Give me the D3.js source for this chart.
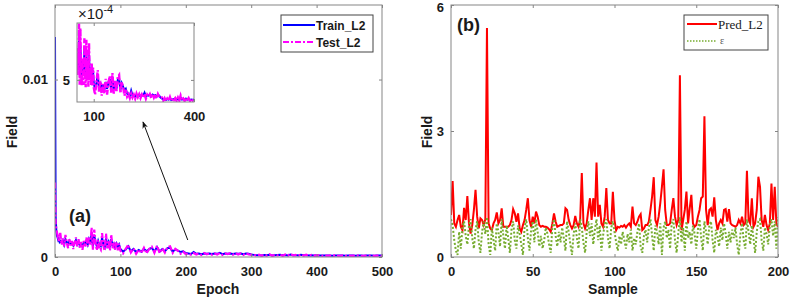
<!DOCTYPE html>
<html>
<head>
<meta charset="utf-8">
<script src="https://cdn.jsdelivr.net/npm/d3@7"></script>
<style>
  body { margin: 0; background: #fff; }
  text { font-family: "Liberation Sans", Arial, sans-serif; }
</style>
</head>
<body>
<div id="chart"></div>
<script>
// ---- data: panel (a), losses in units of 1e-4 ----
var epochs = [].concat(d3.range(0, 9), d3.range(10, 101, 2), d3.range(104, 501, 4));
var trainL2 = [124, 23, 15, 12, 11, 9.5, 10, 8.5, 9,
  8, 9.5, 7, 10, 8.5, 7, 9, 7.5, 8, 6.5, 8, 9.5, 7, 8.5, 6.5, 7.5, 6, 8, 7, 9,
  7, 10, 8, 13, 6, 12, 8.5, 6, 9, 6.5, 6, 11, 7, 5.5, 10.5, 6.5, 8.5, 5.5, 10, 6.5, 7.5, 5.5, 7.5, 5.5, 7,
  4.5,
  3, 4.2, 6.0, 3.2, 4.5, 2.8, 4.0, 3.0, 4.6, 3.2, 4.5, 5.2, 3.0, 5.6, 3.0, 4.5, 3.2, 5.0, 5.2, 3.0, 4.3, 3.6, 2.8, 3.2, 2.2,
  2.0, 1.7, 2.8, 1.8, 1.9, 1.6, 2.0, 1.8, 1.9, 1.7, 2.0, 1.8, 2.4, 1.6, 1.9, 1.8, 2.0, 1.7, 2.0, 1.8, 1.9, 1.6, 2.0, 1.8, 1.4,
  1.2, 1.0, 1.1, 0.9, 1.1, 1.0, 1.3, 0.9, 1.0, 1.1, 1.2, 1.0, 1.1, 0.9, 1.4, 1.0, 1.1, 0.9, 1.2, 1.0, 1.1, 0.9, 1.0, 0.9, 1.0,
  0.8, 0.8, 0.9, 0.8, 0.8, 0.7, 0.9, 0.8, 0.8, 0.8, 0.7, 0.9, 0.8, 0.8, 0.7, 0.8, 0.8, 0.7, 0.8, 0.8, 0.8, 0.7, 0.8, 0.8, 0.8];
var testL2 = [42, 19, 16, 14, 12, 13, 9, 11, 14,
  7, 11, 6, 12.5, 8, 5, 10, 6.5, 9, 4.5, 8, 11, 6, 10, 5, 8.5, 4, 9, 6, 11,
  6, 11.5, 7, 16.5, 4, 15.5, 8, 3.8, 9.5, 5, 4, 13.5, 6, 3.5, 13.2, 5, 9, 3.6, 12.5, 5, 7, 4, 8.5, 3.8, 7.5,
  3.5,
  2, 4.5, 7, 2.5, 4.8, 1.8, 4.2, 2.2, 5.2, 2.0, 4.5, 5.8, 2.4, 6.4, 2.2, 5.0, 2.5, 5.6, 6.0, 2.3, 4.6, 3.5, 1.8, 3.0, 1.6,
  2.1, 1.3, 2.2, 1.4, 2.0, 1.2, 2.2, 1.5, 2.1, 1.3, 2.0, 1.4, 2.2, 1.2, 2.0, 1.6, 2.1, 1.3, 2.2, 1.4, 2.0, 1.2, 2.1, 1.5, 1.3,
  1.4, 0.8, 1.3, 0.7, 1.2, 0.8, 1.5, 0.7, 1.2, 0.9, 1.3, 0.7, 1.4, 0.8, 1.8, 0.9, 1.2, 0.7, 1.4, 0.8, 1.3, 0.7, 1.2, 0.8, 1.1,
  0.9, 0.6, 1.0, 0.7, 0.9, 0.6, 1.0, 0.8, 0.7, 0.9, 0.6, 1.0, 0.7, 0.8, 0.6, 0.9, 0.7, 0.6, 0.8, 0.7, 0.9, 0.6, 0.8, 0.7, 0.7];
var epochTicks = [0, 100, 200, 300, 400, 500];
var fieldTicksA = [0, 0.01];

// ---- data: panel (b) ----
var samples = d3.range(0, 201);
var predL2 = [1.0, 1.81, 0.8, 0.72, 0.88, 1.0, 0.72, 0.64, 1.17, 0.88,
  1.45, 0.8, 0.56, 0.76, 1.12, 1.6, 0.96, 0.68, 0.92, 0.88,
  0.76, 0.9, 5.45, 0.8, 0.68, 0.64, 0.8, 0.88, 1.06, 0.8,
  0.88, 1.16, 0.72, 0.72, 0.72, 0.72, 0.76, 0.88, 1.14, 1.04,
  0.84, 1.04, 0.68, 0.6, 0.76, 0.88, 1.12, 1.4, 0.88, 0.72,
  0.96, 0.8, 1.08, 0.96, 0.76, 0.72, 0.74, 0.72, 0.72, 0.7,
  0.66, 0.6, 0.8, 1.04, 0.84, 0.72, 0.74, 0.76, 0.76, 0.8,
  1.16, 1.12, 0.88, 0.76, 0.68, 0.76, 0.98, 0.8, 0.72, 0.9,
  2.0, 0.8, 0.68, 0.8, 1.12, 1.4, 0.88, 1.4, 0.96, 2.25,
  0.96, 1.24, 0.8, 0.72, 0.96, 1.64, 0.88, 0.8, 0.8, 1.55,
  0.88, 0.64, 0.72, 0.7, 0.74, 0.72, 0.76, 0.7, 0.76, 0.8,
  0.72, 1.2, 0.8, 0.76, 0.84, 0.96, 1.02, 0.64, 0.68, 0.76,
  0.76, 0.84, 1.12, 1.44, 1.9, 0.88, 0.76, 0.96, 1.28, 1.67,
  2.09, 1.12, 0.76, 0.76, 0.8, 1.12, 1.4, 0.96, 0.76, 0.88,
  4.33, 0.64, 0.88, 1.12, 1.56, 0.8, 1.16, 1.48, 0.8, 0.72,
  0.76, 0.96, 1.12, 1.4, 1.44, 3.35, 1.12, 0.76, 1.12, 1.16,
  0.96, 1.42, 0.88, 0.64, 0.8, 0.88, 0.8, 1.12, 1.14, 0.84,
  1.14, 0.8, 0.76, 0.74, 0.72, 0.76, 0.88, 0.8, 0.96, 0.76,
  0.8, 2.05, 0.88, 0.8, 1.4, 0.72, 0.8, 1.12, 1.91, 1.67,
  0.88, 0.72, 1.0, 0.76, 0.64, 0.8, 1.75, 0.88, 1.67, 0.8, 0.72];
var epsVals = [0.9, 0.75, 0.4, 0.15, 0.05, 0.6, 0.2, 0.7, 0.85, 0.5, 0.3, 0.75, 0.9, 0.45, 0.2, 0.65, 0.85, 0.35, 0.1, 0.6,
  0.85, 0.55, 0.95, 0.3, 0.05, 0.7, 0.4, 0.15, 0.8, 0.6, 0.25, 0.9, 0.5, 0.2, 0.75, 0.45, 0.1, 0.65, 0.85, 0.4,
  0.2, 0.75, 0.55, 0.3, 0.05, 0.7, 0.9, 0.45, 0.15, 0.65, 0.85, 0.35, 0.9, 0.6, 0.25, 0.5, 0.2, 0.4, 0.7, 0.55,
  0.3, 0.1, 0.7, 0.9, 0.5, 0.25, 0.6, 0.35, 0.7, 0.45, 0.15, 0.85, 0.6, 0.3, 0.05, 0.55, 0.8, 0.45, 0.2, 0.9,
  0.7, 0.35, 0.1, 0.6, 0.85, 0.5, 0.8, 0.3, 0.65, 0.9, 0.4, 0.75, 0.15, 0.5, 0.8, 0.9, 0.45, 0.2, 0.7, 0.85,
  0.6, 0.35, 0.15, 0.5, 0.3, 0.6, 0.4, 0.2, 0.55, 0.35, 0.65, 0.15, 0.45, 0.3, 0.6, 0.8, 0.25, 0.1, 0.5, 0.65,
  0.35, 0.7, 0.9, 0.5, 0.15, 0.75, 0.6, 0.3, 0.8, 0.05, 0.7, 0.85, 0.45, 0.65, 0.2, 0.8, 0.9, 0.4, 0.1, 0.55,
  0.95, 0.35, 0.7, 0.15, 0.85, 0.45, 0.6, 0.3, 0.75, 0.55, 0.2, 0.65, 0.9, 0.45, 0.15, 0.85, 0.6, 0.3, 0.75, 0.85,
  0.4, 0.1, 0.65, 0.5, 0.25, 0.7, 0.4, 0.8, 0.55, 0.2, 0.6, 0.35, 0.65, 0.45, 0.7, 0.3, 0.05, 0.55, 0.8, 0.4,
  0.2, 0.9, 0.6, 0.3, 0.75, 0.45, 0.1, 0.6, 0.85, 0.9, 0.4, 0.15, 0.7, 0.55, 0.3, 0.75, 0.9, 0.5, 0.85, 0.2, 0.95];
var sampleTicks = [0, 50, 100, 150, 200];
var fieldTicksB = [0, 3, 6];

var W = 795, H = 299;
var frameColor = "#858585", textColor = "#1a1a1a";

var svg = d3.select("#chart").append("svg")
  .attr("width", W).attr("height", H);

var defs = svg.append("defs");
function clip(id, x, y, w, h) {
  defs.append("clipPath").attr("id", id)
    .append("rect").attr("x", x).attr("y", y).attr("width", w).attr("height", h);
  return "url(#" + id + ")";
}

// draws inward ticks on all four sides, labels on bottom/left
function frame(g, x, y, xt, yt, fmtX, fmtY, fs) {
  var r = x.range(), t = y.range();
  g.append("g").attr("transform", "translate(0," + t[0] + ")")
    .call(d3.axisBottom(x).tickValues(xt).tickFormat(fmtX).tickSizeInner(-3).tickSizeOuter(0).tickPadding(10));
  g.append("g").attr("class", "yax").attr("transform", "translate(" + r[0] + ",0)")
    .call(d3.axisLeft(y).tickValues(yt).tickFormat(fmtY).tickSizeInner(-3).tickSizeOuter(0).tickPadding(7));
  g.append("g").attr("transform", "translate(0," + t[1] + ")")
    .call(d3.axisTop(x).tickValues(xt).tickFormat("").tickSizeInner(-3).tickSizeOuter(0));
  g.append("g").attr("transform", "translate(" + r[1] + ",0)")
    .call(d3.axisRight(y).tickValues(yt).tickFormat("").tickSizeInner(-3).tickSizeOuter(0));
  g.selectAll(".domain").remove();
  g.selectAll(".tick line").attr("stroke", frameColor);
  g.selectAll(".tick text").attr("fill", textColor)
    .style("font-size", fs + "px").style("font-weight", "bold")
    .style("font-family", "'Liberation Sans', Arial, sans-serif");
  g.append("rect").attr("x", r[0]).attr("y", t[1])
    .attr("width", r[1] - r[0]).attr("height", t[0] - t[1])
    .attr("fill", "none").attr("stroke", frameColor).attr("stroke-width", 1);
}

// ================= panel (a) =================
var xA = d3.scaleLinear().domain([0, 500]).range([55, 382]);
var yA = d3.scaleLinear().domain([0, 0.0142]).range([257, 5]);

var trainPts = epochs.map(function(e, i) { return [e, trainL2[i] * 1e-4]; });
var testPts = epochs.map(function(e, i) { return [e, testL2[i] * 1e-4]; });

var gA = svg.append("g");
var lineA = d3.line().x(function(d) { return xA(d[0]); }).y(function(d) { return yA(d[1]); });
var plotA = gA.append("g").attr("clip-path", clip("clipA", 55, 5, 327, 252));
plotA.append("path").datum(trainPts).attr("d", lineA)
  .attr("fill", "none").attr("stroke", "#0000ff").attr("stroke-width", 2);
plotA.append("path").datum(testPts).attr("d", lineA)
  .attr("fill", "none").attr("stroke", "#ff00ff").attr("stroke-width", 2.2)
  .attr("stroke-dasharray", "6,2,2,2");

frame(gA, xA, yA, epochTicks, fieldTicksA, d3.format("d"),
  function(d) { return d === 0 ? "0" : "0.01"; }, 13);

gA.append("text").attr("x", 218).attr("y", 294).attr("text-anchor", "middle")
  .attr("fill", textColor).style("font-size", "14px").style("font-weight", "bold").text("Epoch");
gA.append("text").attr("transform", "translate(17,132) rotate(-90)").attr("text-anchor", "middle")
  .attr("fill", textColor).style("font-size", "14px").style("font-weight", "bold").text("Field");
gA.append("text").attr("x", 69).attr("y", 222)
  .attr("fill", textColor).style("font-size", "18px").style("font-weight", "bold").text("(a)");

// arrow from the tail of the curve to the inset
defs.append("marker").attr("id", "arrow").attr("viewBox", "0 0 10 10")
  .attr("refX", 9).attr("refY", 5).attr("markerWidth", 7).attr("markerHeight", 7)
  .attr("orient", "auto")
  .append("path").attr("d", "M0,1 L10,5 L0,9 L3,5 Z").attr("fill", "#111");
gA.append("line").attr("x1", xA(203)).attr("y1", 240).attr("x2", 143).attr("y2", 122)
  .attr("stroke", "#111").attr("stroke-width", 1).attr("marker-end", "url(#arrow)");

// legend (a)
var legA = gA.append("g");
legA.append("rect").attr("x", 281).attr("y", 15).attr("width", 92).attr("height", 37)
  .attr("fill", "#fff").attr("stroke", "#444").attr("stroke-width", 1);
legA.append("line").attr("x1", 283).attr("x2", 315).attr("y1", 25).attr("y2", 25)
  .attr("stroke", "#0000ff").attr("stroke-width", 2);
legA.append("line").attr("x1", 283).attr("x2", 315).attr("y1", 42).attr("y2", 42)
  .attr("stroke", "#ff00ff").attr("stroke-width", 2).attr("stroke-dasharray", "6,2,2,2");
legA.append("text").attr("x", 316).attr("y", 29.5).attr("fill", textColor)
  .style("font-size", "12px").style("font-weight", "bold").text("Train_L2");
legA.append("text").attr("x", 316).attr("y", 46.5).attr("fill", textColor)
  .style("font-size", "12px").style("font-weight", "bold").text("Test_L2");

// inset
var xI = d3.scaleLinear().domain([50, 400]).range([77, 194]);
var yI = d3.scaleLinear().domain([0.5e-4, 16.6e-4]).range([102, 23]);
var gI = svg.append("g");
gI.append("rect").attr("x", 77).attr("y", 23).attr("width", 117).attr("height", 79).attr("fill", "#fff");
var lineI = d3.line().x(function(d) { return xI(d[0]); }).y(function(d) { return yI(d[1]); });
var plotI = gI.append("g").attr("clip-path", clip("clipI", 77, 23, 117, 79));
var inWin = function(d) { return d[0] >= 48 && d[0] <= 400; };
plotI.append("path").datum(trainPts.filter(inWin)).attr("d", lineI)
  .attr("fill", "none").attr("stroke", "#0000ff").attr("stroke-width", 2);
plotI.append("path").datum(testPts.filter(inWin)).attr("d", lineI)
  .attr("fill", "none").attr("stroke", "#ff00ff").attr("stroke-width", 2.4)
  .attr("stroke-dasharray", "6,2,2,2");
frame(gI, xI, yI, [100, 400], [5e-4], d3.format("d"), function() { return "5"; }, 13);
var mult = gI.append("text").attr("x", 78).attr("y", 19).attr("fill", textColor)
  .style("font-size", "15px");
mult.append("tspan").text("\u00d710");
mult.append("tspan").attr("dy", -6).style("font-size", "11px").text("-4");

// ================= panel (b) =================
var xB = d3.scaleLinear().domain([0, 200]).range([451, 778]);
var yB = d3.scaleLinear().domain([0, 6]).range([257, 5]);
var gB = svg.append("g");
var lineB = d3.line().x(function(d, i) { return xB(samples[i]); }).y(function(d) { return yB(d); });
var plotB = gB.append("g").attr("clip-path", clip("clipB", 451, 5, 327, 252));
plotB.append("path").datum(predL2).attr("d", lineB)
  .attr("fill", "none").attr("stroke", "#ff0000").attr("stroke-width", 2);
plotB.append("path").datum(epsVals).attr("d", lineB)
  .attr("fill", "none").attr("stroke", "#77ac30").attr("stroke-width", 2)
  .attr("stroke-dasharray", "2,2");

frame(gB, xB, yB, sampleTicks, fieldTicksB, d3.format("d"), d3.format("d"), 13);
// keep the top label inside the page
gB.selectAll(".yax .tick text").filter(function(d) { return d === 6; }).attr("dy", "0.5em");

gB.append("text").attr("x", 613).attr("y", 294).attr("text-anchor", "middle")
  .attr("fill", textColor).style("font-size", "14px").style("font-weight", "bold").text("Sample");
gB.append("text").attr("transform", "translate(432,132) rotate(-90)").attr("text-anchor", "middle")
  .attr("fill", textColor).style("font-size", "14px").style("font-weight", "bold").text("Field");
gB.append("text").attr("x", 457).attr("y", 31)
  .attr("fill", textColor).style("font-size", "18px").style("font-weight", "bold").text("(b)");

// legend (b)
var legB = gB.append("g");
legB.append("rect").attr("x", 684).attr("y", 15).attr("width", 84).attr("height", 35)
  .attr("fill", "#fff").attr("stroke", "#444").attr("stroke-width", 1);
legB.append("line").attr("x1", 687).attr("x2", 717).attr("y1", 24).attr("y2", 24)
  .attr("stroke", "#ff0000").attr("stroke-width", 2);
legB.append("line").attr("x1", 687).attr("x2", 717).attr("y1", 41).attr("y2", 41)
  .attr("stroke", "#77ac30").attr("stroke-width", 1.5).attr("stroke-dasharray", "1.5,1.5");
legB.append("text").attr("x", 718).attr("y", 28.5).attr("fill", textColor)
  .style("font-family", "'Liberation Serif', 'Times New Roman', serif").style("font-size", "13px")
  .text("Pred_L2");
legB.append("text").attr("x", 720).attr("y", 44).attr("fill", "#555")
  .style("font-family", "'Liberation Serif', 'Times New Roman', serif").style("font-size", "10px")
  .text("\u03b5");
</script>
</body>
</html>
